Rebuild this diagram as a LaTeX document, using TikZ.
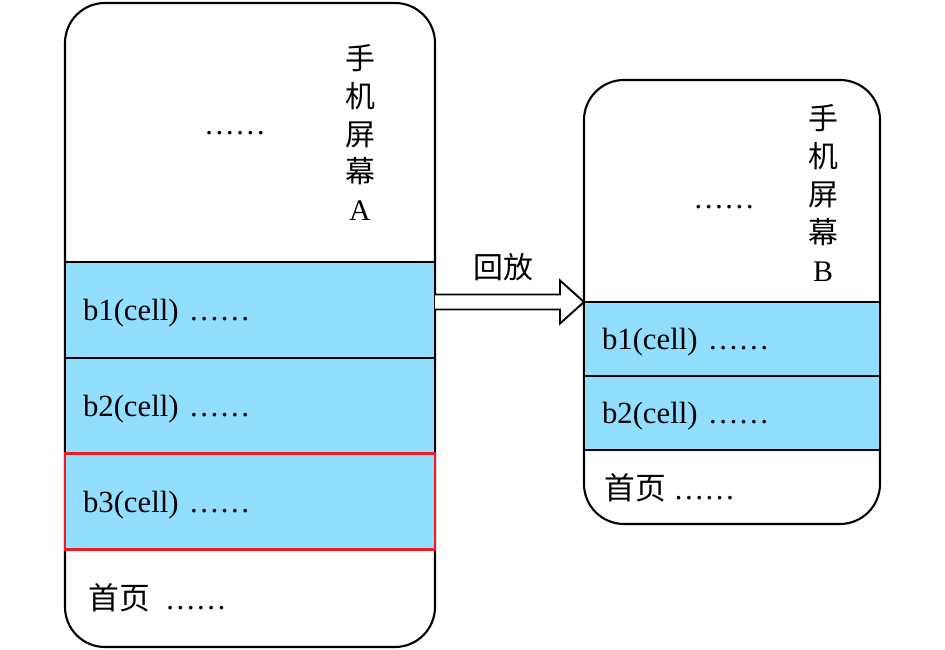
\documentclass[tikz,border=0pt]{standalone}
\usepackage{fontspec}
\setmainfont{Liberation Serif}
\newfontfamily\cjk{Noto Sans CJK SC}
\usetikzlibrary{positioning}
\usetikzlibrary{calc}

\definecolor{cellblue}{RGB}{146,222,254}
\definecolor{cellred}{RGB}{237,28,36}

\begin{document}
\begin{tikzpicture}[
        font=\fontsize{17.5}{21}\selectfont,
        screen/.style={draw, line width=1.2pt, rounded corners=0.8cm, inner sep=0pt, outer sep=0pt},
        cell/.style={draw, line width=0.9pt, fill=cellblue, inner xsep=0.36cm, inner ysep=0pt, outer sep=0pt, align=left,
            text height=0.57cm, text depth=0.13cm},
        cellA/.style={cell, text width=6.68cm, minimum height=1.92cm},
        cellB/.style={cell, text width=5.2cm, minimum height=1.48cm},
        vtext/.style={align=center, inner sep=0pt, font=\fontsize{17}{21.5}\selectfont\cjk},
    ]
    \useasboundingbox (0,0) rectangle (18.9,13);
    %% 手机屏幕A
    \node[screen, minimum width=7.4cm, minimum height=12.88cm] (scrA) at (5,6.5) {};
    \node[cellA, below=5.18cm of scrA.north] (cellA1) {b1(cell) ……};
    \node[cellA, below=0pt of cellA1] (cellA2) {b2(cell) ……};
    \node[cellA, below=0pt of cellA2, draw=cellred, line width=1.7pt] (cellA3) {b3(cell) ……};
    \node[vtext] (titleA) at (7.2,10.35) {手\\机\\屏\\幕\\\rmfamily A};
    \node[anchor=base] (dotsA) at (4.7,10.3) {……};
    \node[anchor=base west, inner sep=0pt] (homeA) at (1.76,0.8) {{\cjk 首页}\hspace{0.5em}……};
    %% 手机屏幕B
    \node[screen, minimum width=5.92cm, minimum height=8.88cm] (scrB) at (14.64,6.96) {};
    \node[cellB, below=4.44cm of scrB.north] (cellB1) {b1(cell) ……};
    \node[cellB, below=0pt of cellB1] (cellB2) {b2(cell) ……};
    \node[vtext] (titleB) at (16.46,9.14) {手\\机\\屏\\幕\\\rmfamily B};
    \node[anchor=base] (dotsB) at (14.48,8.82) {……};
    \node[anchor=base west, inner sep=0pt] (homeB) at (12.08,3.0) {{\cjk 首页} ……};
    % 回放箭头
    \coordinate (tip) at (scrB.west);
    \coordinate (tail) at (cellA1.east |- tip);
    \draw[line width=1.1pt, fill=white, line join=miter]
        ($(tail)+(0,0.15)$) -- ($(tip)+(-0.48,0.15)$) -- ($(tip)+(-0.48,0.43)$) -- (tip)
        -- ($(tip)+(-0.48,-0.43)$) -- ($(tip)+(-0.48,-0.15)$) -- ($(tail)+(0,-0.15)$);
    \node[font=\fontsize{17}{21}\selectfont\cjk] (replay) at (10.06,7.66) {回放};
\end{tikzpicture}
\end{document}
